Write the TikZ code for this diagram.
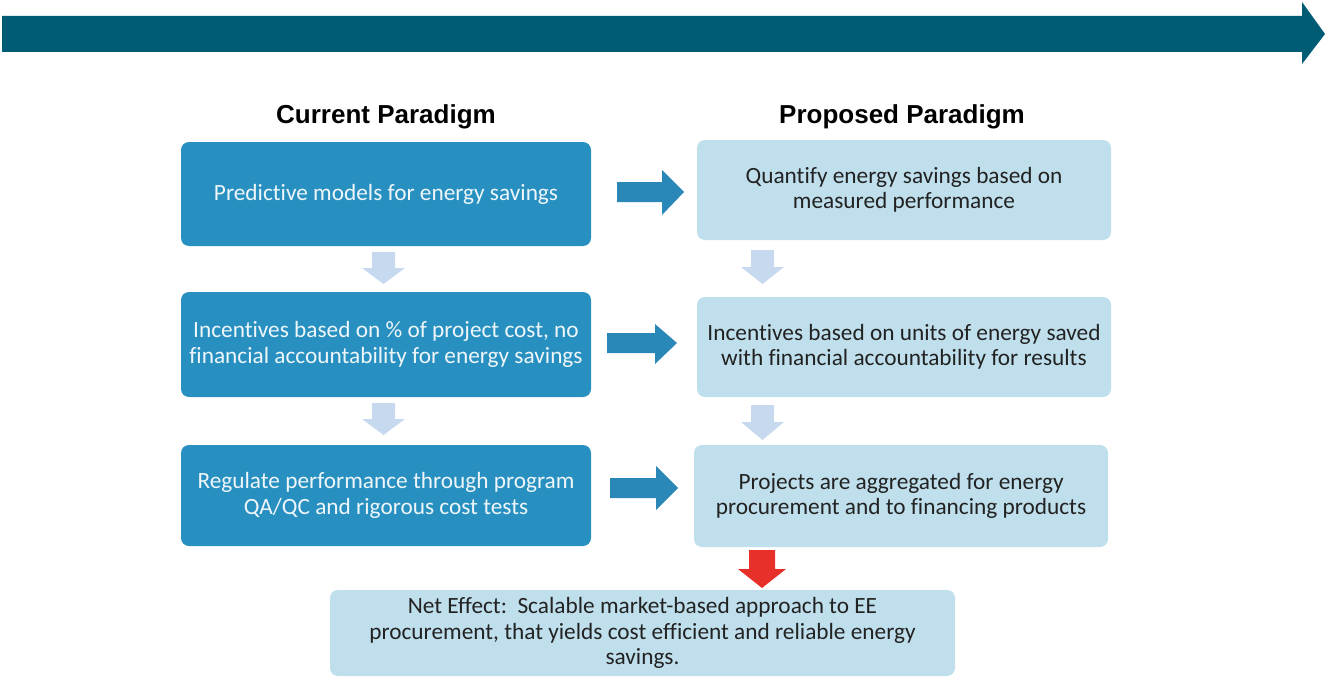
\documentclass[tikz,border=0pt]{standalone}
\usepackage{fontspec}
\setmainfont[Ligatures={NoCommon}]{Carlito}
\newfontfamily\headfont{Liberation Sans}
\definecolor{topblue}{RGB}{0,91,116}
\definecolor{darkbox}{RGB}{40,144,192}
\definecolor{lightbox}{RGB}{192,223,236}
\definecolor{harrow}{RGB}{42,136,184}
\definecolor{varrow}{RGB}{198,217,238}
\definecolor{redarrow}{RGB}{232,48,42}
\definecolor{darktext}{RGB}{34,34,34}
\begin{document}
\begin{tikzpicture}[x=1pt,y=-1pt,
  darkstep/.style={fill=darkbox, rounded corners=8pt, text=white!92!darkbox, font=\fontsize{23.3}{26.5}\selectfont, align=center, inner sep=0pt},
  lightstep/.style={fill=lightbox, rounded corners=8pt, text=darktext, font=\fontsize{23.3}{25.5}\selectfont, align=center, inner sep=0pt},
  headtxt/.style={font=\headfont\bfseries\fontsize{26}{30}\selectfont, text=black}]
\useasboundingbox (0,0) rectangle (1327,677);
% top arrow
\fill[topblue] (2,16) -- (1302,16) -- (1302,2) -- (1325,34) -- (1302,64) -- (1302,52) -- (2,52) -- cycle;
% headings
\node[headtxt] (hc) at (386,116.5) {Current Paradigm};
\node[headtxt] (hp) at (902,116.5) {Proposed Paradigm};
% left boxes
\node[darkstep, minimum width=410pt, minimum height=104pt] (L1) at (386,194) {Predictive models for energy savings};
\node[darkstep, minimum width=410pt, minimum height=105pt] (L2) at (386,344.5) {Incentives based on \% of project cost, no\\financial accountability for energy savings};
\node[darkstep, minimum width=410pt, minimum height=101pt] (L3) at (386,495.5) {Regulate performance through program\\QA/QC and rigorous cost tests};
% right boxes
\node[lightstep, minimum width=414pt, minimum height=100pt] (R1) at (904,190) {Quantify energy savings based on\\measured performance};
\node[lightstep, minimum width=414pt, minimum height=100pt] (R2) at (904,347) {Incentives based on units of energy saved\\with financial accountability for results};
\node[lightstep, minimum width=414pt, minimum height=102pt] (R3) at (901,496) {Projects are aggregated for energy\\procurement and to financing products};
% bottom box
\node[lightstep, minimum width=625pt, minimum height=86pt] (B) at (642.5,633) {Net Effect:\ \ Scalable market-based approach to EE\\procurement, that yields cost efficient and reliable energy\\savings.};
% horizontal arrows
\fill[harrow] (617,182) -- (662,182) -- (662,170) -- (684,192) -- (662,215) -- (662,202) -- (617,202) -- cycle;
\fill[harrow] (607,333) -- (655,333) -- (655,324) -- (677,343) -- (655,364) -- (655,353) -- (607,353) -- cycle;
\fill[harrow] (610,478) -- (656,478) -- (656,466) -- (678,488) -- (656,510) -- (656,498) -- (610,498) -- cycle;
% vertical light arrows
\fill[varrow] (372,252) -- (395,252) -- (395,268) -- (405,268) -- (383.5,284) -- (362,268) -- (372,268) -- cycle;
\fill[varrow] (372,403) -- (395,403) -- (395,419) -- (405,419) -- (383.5,435) -- (362,419) -- (372,419) -- cycle;
\fill[varrow] (751,250) -- (774,250) -- (774,267) -- (784,267) -- (762.5,284) -- (741,267) -- (751,267) -- cycle;
\fill[varrow] (751,405) -- (774,405) -- (774,422) -- (784,422) -- (762.5,440) -- (741,422) -- (751,422) -- cycle;
% red arrow
\fill[redarrow] (749,550) -- (775,550) -- (775,569) -- (786,569) -- (762,588) -- (738,569) -- (749,569) -- cycle;
\end{tikzpicture}
\end{document}
